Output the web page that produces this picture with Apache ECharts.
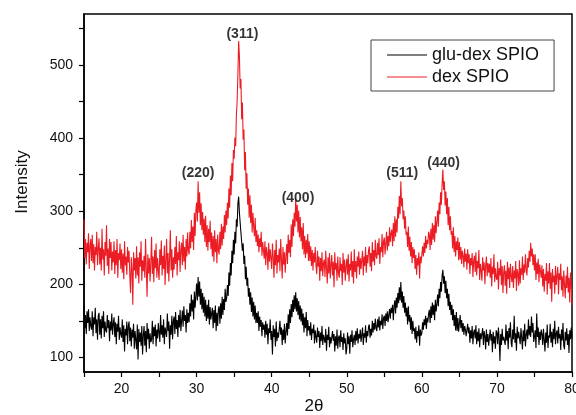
<!DOCTYPE html>
<html>
<head>
<meta charset="utf-8">
<script src="https://cdn.jsdelivr.net/npm/echarts@6/dist/echarts.min.js"></script>
<style>html,body{margin:0;padding:0;background:#fff;overflow:hidden;}#chart{width:576px;height:415px;}</style>
</head>
<body>
<div id="chart"></div>
<script>
// sampling grid of the scan (degrees 2θ)
const xStart = 15;
const xStep = 0.1;

// dex SPIO (red), one row per degree: x.0 ... x.9
const dexSPIO = [
289,236,262,227,257,244,270,221,253,262,
232,268,229,255,219,251,240,272,226,249,
263,227,250,219,276,234,248,212,258,239,
281,225,249,214,262,236,258,219,245,230,
259,214,247,226,262,209,243,233,256,221,
248,216,242,207,259,226,238,213,251,230,
246,212,188,237,221,172,244,219,236,208,
252,212,237,201,244,224,259,205,233,218,
239,209,262,220,183,241,215,236,204,230,
265,214,238,203,247,222,256,209,236,219,
206,248,226,260,212,239,221,253,199,234,
262,215,243,204,236,274,219,248,209,237,
220,251,228,266,212,244,233,259,217,248,
257,226,268,231,251,220,262,238,271,246,
241,272,249,288,258,279,247,298,266,301,
312,286,341,298,326,281,311,274,299,268,
290,258,294,251,281,246,276,258,287,248,
271,238,266,231,274,244,262,229,268,247,
241,272,248,283,253,279,262,295,271,301,
281,312,290,331,305,349,322,366,341,384,
372,401,389,432,451,489,533,512,468,481,
426,449,398,412,356,381,331,352,309,331,
291,322,284,309,271,298,279,266,291,258,
274,252,268,244,263,251,272,239,258,247,
235,259,226,251,243,220,257,231,248,236,
221,256,238,209,247,226,261,215,240,230,
249,218,262,233,208,251,227,244,216,238,
255,228,268,243,261,237,282,251,289,266,
298,279,317,286,309,271,301,264,292,259,
278,248,284,241,266,236,261,242,269,232,
259,232,252,225,247,219,243,230,251,226,
214,246,224,238,205,236,218,244,211,229,
234,210,246,222,201,237,215,243,208,226,
240,212,231,196,244,220,229,205,238,215,
209,237,218,228,199,243,216,234,205,225,
235,213,241,204,228,219,245,210,232,201,
248,217,232,208,238,224,245,213,236,221,
219,246,212,238,225,251,216,240,229,247,
252,224,243,218,258,231,247,226,261,238,
235,257,240,263,228,251,244,269,237,259,
264,241,256,272,246,266,252,278,258,270,
275,252,284,259,293,265,289,271,306,290,
321,296,341,307,318,289,301,276,293,268,
272,251,279,246,265,238,258,229,251,236,
248,221,240,213,236,226,244,208,238,229,
229,252,238,257,243,266,249,261,255,272,
268,247,276,254,284,261,281,258,293,270,
286,301,279,312,296,326,309,338,357,329,
341,308,327,296,318,281,306,274,293,268,
273,249,278,244,266,238,259,247,264,233,
258,234,251,228,246,239,223,249,231,242,
220,248,229,241,214,236,226,243,210,232,
239,217,244,212,232,222,247,206,228,219,
205,237,219,230,200,226,238,211,229,216,
228,209,236,197,224,214,241,203,222,210,
206,231,193,222,212,234,199,225,188,217,
226,198,219,187,231,207,223,195,228,211,
203,225,195,219,208,232,191,221,214,198,
233,201,222,213,238,206,227,216,241,221,
212,236,223,246,231,257,238,249,226,241,
219,241,206,230,214,235,203,227,218,209,
226,197,221,190,214,205,229,186,218,201,
229,194,216,176,221,203,212,187,225,199,
197,224,186,215,206,228,192,211,183,219,
218,181,212,195,224,189,209,175,216,198,
172
];

// glu-dex SPIO (black)
const gluDexSPIO = [
171,140,158,132,163,147,166,136,155,143,
138,163,129,155,145,168,133,152,124,157,
161,131,152,126,157,140,163,128,149,137,
134,158,140,151,122,149,137,160,131,146,
155,128,148,118,146,135,157,124,141,132,
127,152,121,144,108,139,130,149,118,143,
149,122,141,115,138,127,146,112,136,124,
111,145,97,139,121,134,116,143,104,130,
143,116,136,107,147,125,139,112,133,121,
124,150,118,142,129,145,115,138,126,147,
149,121,158,131,144,127,152,118,141,135,
128,160,136,149,112,144,131,157,125,150,
156,132,162,139,151,128,158,141,165,136,
137,164,142,170,150,158,134,166,147,161,
148,174,156,186,163,179,152,190,168,184,
201,178,210,183,204,172,194,166,188,161,
183,156,179,150,172,153,179,145,169,152,
150,168,140,165,147,171,136,161,143,166,
170,146,174,153,183,158,180,165,194,176,
181,199,184,216,198,229,212,246,229,261,
241,272,256,289,279,311,320,298,296,271,
270,246,256,228,239,207,224,198,209,183,
195,172,189,162,182,156,176,152,171,147,
161,147,163,136,156,142,151,129,148,138,
145,127,150,131,146,118,140,133,152,124,
136,104,144,128,139,115,149,122,134,127,
126,150,131,141,117,138,124,146,119,135,
147,130,159,139,166,147,173,155,179,162,
185,166,189,163,181,158,177,152,171,149,
167,144,160,134,155,140,162,129,151,137,
143,130,148,124,139,133,145,119,137,128,
120,141,128,136,113,134,122,143,117,131,
133,120,139,109,131,124,142,114,128,119,
118,136,123,132,108,129,116,138,112,127,
130,114,137,121,128,110,133,119,126,104,
112,134,118,129,105,131,121,137,114,125,
131,117,136,123,140,119,132,126,138,121,
122,141,117,133,127,144,120,136,129,142,
145,127,139,130,150,134,147,138,153,140,
136,152,141,156,137,150,144,159,139,154,
157,143,160,150,163,148,158,166,153,168,
161,172,151,170,178,160,182,168,188,174,
196,178,203,175,190,168,184,161,175,156,
168,145,170,149,158,138,155,132,150,136,
140,125,142,120,136,129,144,116,138,130,
133,148,138,152,144,157,139,154,148,160,
165,147,170,154,175,158,172,151,179,163,
173,186,170,194,181,203,190,212,220,201,
211,188,205,181,194,170,187,165,176,158,
172,151,166,143,158,137,162,136,154,135,
146,158,140,151,135,147,131,143,138,129,
128,146,133,141,120,137,126,143,118,134,
138,126,144,118,135,122,140,114,133,125,
125,140,117,136,129,111,138,121,132,116,
116,138,123,132,107,135,119,129,112,137,
134,118,141,126,95,132,117,139,123,128,
130,117,145,123,136,111,140,127,148,120,
114,138,125,157,120,133,109,142,126,135,
133,118,140,127,111,137,122,146,115,131,
138,125,152,130,143,128,156,134,147,121,
121,137,113,160,128,141,117,135,124,138,
132,117,139,124,108,134,120,145,113,130,
127,146,120,135,114,139,125,150,118,133,
137,119,142,126,132,110,138,123,147,116,
111,135,123,140,117,132,106,137,125,141,
126
];

// peak annotations
const peakLabels = ['(220)', '(311)', '(400)', '(511)', '(440)'];
const peakX = [30.2, 36.1, 43.5, 57.4, 62.9];
const peakY = [352, 543, 318, 352, 366];

// axis ticks / labels
const xTickValues = [15,20,25,30,35,40,45,50,55,60,65,70,75,80];
const xLabelValues = [20,30,40,50,60,70,80];
const yTickValues = [100,150,200,250,300,350,400,450,500,550];
const yLabelValues = [100,200,300,400,500];

const FONT = "'Liberation Sans', Arial, Helvetica, sans-serif";

function toPairs(arr) {
  return arr.map((v, i) => [+(xStart + i * xStep).toFixed(2), v]);
}

const chart = echarts.init(document.getElementById('chart'), null, {renderer: 'canvas'});
chart.setOption({
  animation: false,
  backgroundColor: '#fff',
  grid: {left: 84, right: 4, top: 14, bottom: 43, containLabel: false, outerBoundsMode: 'none',
         show: true, borderColor: '#000', borderWidth: 1.5, backgroundColor: 'transparent'},
  xAxis: {
    type: 'value', min: 15, max: 80,
    axisLine: {show: true, lineStyle: {color: '#000', width: 1.5}},
    axisTick: {show: true, inside: false, length: 5, lineStyle: {color: '#000', width: 1.2}, customValues: xTickValues},
    axisLabel: {show: true, color: '#111', fontSize: 14, fontFamily: FONT, margin: 10, customValues: xLabelValues, hideOverlap: false},
    splitLine: {show: false}
  },
  yAxis: {
    type: 'value', min: 80, max: 570,
    axisLine: {show: true, lineStyle: {color: '#000', width: 1.5}},
    axisTick: {show: true, inside: false, length: 5, lineStyle: {color: '#000', width: 1.2}, customValues: yTickValues},
    axisLabel: {show: true, color: '#111', fontSize: 14, fontFamily: FONT, margin: 11, customValues: yLabelValues},
    splitLine: {show: false}
  },
  legend: {
    orient: 'vertical', left: 371, top: 40,
    data: ['glu-dex SPIO', 'dex SPIO'],
    icon: 'rect',
    itemWidth: 40, itemHeight: 1, itemGap: 4,
    padding: [6, 15, 5, 16],
    borderColor: '#444', borderWidth: 1,
    textStyle: {fontSize: 18, fontFamily: FONT, color: '#111', lineHeight: 18}
  },
  graphic: [
    {type: 'text', x: 22, y: 182, rotation: Math.PI / 2,
     style: {text: 'Intensity', fontSize: 17, fontFamily: FONT, fill: '#111', textAlign: 'center', textVerticalAlign: 'middle'}},
    {type: 'text', x: 314, y: 406,
     style: {text: '2θ', fontSize: 17, fontFamily: FONT, fill: '#111', textAlign: 'center', textVerticalAlign: 'middle'}}
  ],
  series: [
    {
      name: 'dex SPIO', type: 'line', data: toPairs(dexSPIO),
      symbol: 'none', showSymbol: false,
      lineStyle: {color: '#ec1c24', width: 1.1}, itemStyle: {color: '#ec1c24'}, z: 2
    },
    {
      name: 'glu-dex SPIO', type: 'line', data: toPairs(gluDexSPIO),
      symbol: 'none', showSymbol: false,
      lineStyle: {color: '#000', width: 1.1}, itemStyle: {color: '#000'}, z: 3
    },
    {
      name: 'peaks', type: 'scatter', symbolSize: 0.1, silent: true,
      data: peakLabels.map((t, i) => ({value: [peakX[i], peakY[i]], name: t})),
      label: {show: true, position: 'inside', formatter: p => p.name, fontSize: 14, fontWeight: 'bold', fontFamily: FONT, color: '#000'},
      itemStyle: {color: 'transparent'}, z: 5
    }
  ]
});
</script>
</body>
</html>
